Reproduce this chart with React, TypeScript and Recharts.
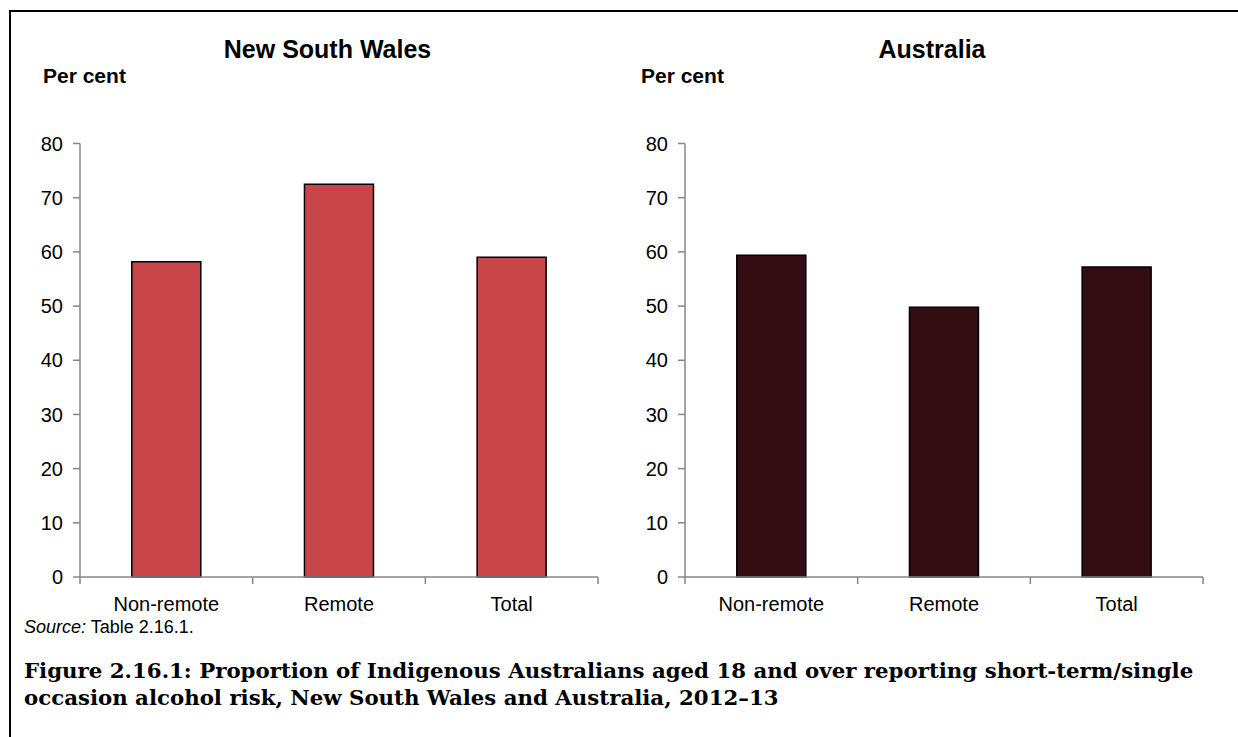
import { BarChart, Bar, XAxis, YAxis } from "recharts";

const categories = ["Non-remote", "Remote", "Total"];
const nswValues = [58.2, 72.5, 59.0];
const ausValues = [59.4, 49.8, 57.2];
const yTicks = [0, 10, 20, 30, 40, 50, 60, 70, 80];
const edgeTicks = [0, 0.5, 1, 1.5, 2, 2.5, 3];

const FONT = "'Liberation Sans', Arial, sans-serif";
const AXIS = "#868686";
const NSW_FILL = "#c8454a";
const AUS_FILL = "#330d12";

function EdgeTick({ x, y, payload }: any) {
    const v = payload.value;
    if (Number.isInteger(v)) {
        return <line x1={x} x2={x} y1={y - 7} y2={y} stroke={AXIS} strokeWidth={1.5} />;
    }
    return (
        <text x={x} y={y + 27} textAnchor="middle" fontSize={20} fontFamily={FONT} fill="#000">
            {categories[Math.floor(v)]}
        </text>
    );
}

function Panel({ values, fill, left }: { values: number[]; fill: string; left: number }) {
    // pos = centre of each category on the 0..3 edge axis
    const rows = categories.map((name, i) => ({ name, pos: i + 0.5, v: values[i] }));
    return (
        <div style={{ position: "absolute", left, top: 120 }}>
            <BarChart width={620} height={520} data={rows}
                      margin={{ top: 23.5, right: 22, bottom: 23, left: 0 }}
                      barCategoryGap="30%">
                <XAxis xAxisId="cat" dataKey="name" hide height={0} />
                <XAxis xAxisId="edge" dataKey="pos" type="number" domain={[0, 3]} ticks={edgeTicks}
                       interval={0} height={40} tickLine={false} tickSize={7} tickMargin={0}
                       allowDataOverflow axisLine={{ stroke: AXIS, strokeWidth: 1.5 }}
                       tick={<EdgeTick />} />
                <YAxis domain={[0, 80]} ticks={yTicks} interval={0} width={80}
                       tickSize={7} tickMargin={10}
                       axisLine={{ stroke: AXIS, strokeWidth: 1.5 }}
                       tickLine={{ stroke: AXIS, strokeWidth: 1.5 }}
                       tick={{ fill: "#000", fontSize: 20, fontFamily: FONT }} />
                <Bar xAxisId="cat" dataKey="v" fill={fill} stroke="#000" strokeWidth={1.5}
                     isAnimationActive={false} />
            </BarChart>
        </div>
    );
}

export default function App() {
    return (
        <div style={{ position: "absolute", left: 0, top: 0, width: 1238, height: 737, overflow: "hidden", background: "#fff" }}>
            <div style={{ position: "absolute", left: 9, top: 10, width: 1300, height: 800,
                          borderTop: "2px solid #000", borderLeft: "2px solid #000" }} />

            <Panel values={nswValues} fill={NSW_FILL} left={0} />
            <Panel values={ausValues} fill={AUS_FILL} left={605} />

            <svg width={1238} height={737} style={{ position: "absolute", left: 0, top: 0, pointerEvents: "none" }}>
                <g fontFamily={FONT} fontWeight="bold" fill="#000">
                    <text x={327.5} y={58} fontSize={25} textAnchor="middle">New South Wales</text>
                    <text x={932} y={58} fontSize={25} textAnchor="middle">Australia</text>
                    <text x={43} y={83} fontSize={21}>Per cent</text>
                    <text x={641} y={83} fontSize={21}>Per cent</text>
                </g>
                <text x={24} y={633} fontSize={18} fontFamily={FONT} fill="#000">
                    <tspan fontStyle="italic">Source:</tspan> Table 2.16.1.
                </text>
                <g fontFamily="'DejaVu Serif', serif" fontWeight="bold" fontSize={21.3} fill="#000">
                    <text x={24} y={678}>Figure 2.16.1: Proportion of Indigenous Australians aged 18 and over reporting short-term/single</text>
                    <text x={24} y={705}>occasion alcohol risk, New South Wales and Australia, 2012–13</text>
                </g>
            </svg>
        </div>
    );
}
